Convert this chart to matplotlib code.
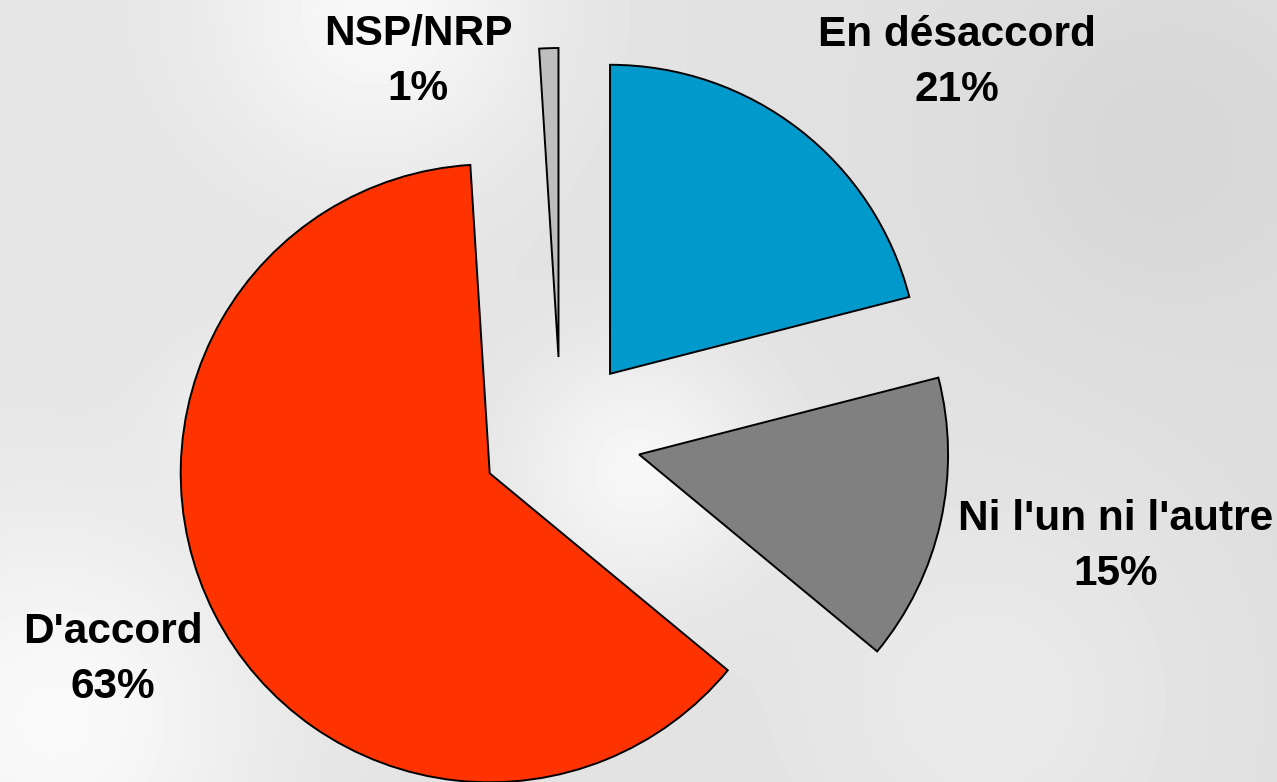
import numpy as np
import matplotlib
matplotlib.use('Agg')
import matplotlib.pyplot as plt

# data
labels = ["En désaccord", "Ni l'un ni l'autre", "D'accord", "NSP/NRP"]
values = [21, 15, 63, 1]
colors = ['#0099CC', '#808080', '#FF3300', '#BEBEBE']

W, H = 1277, 782
R = 309          # pie radius, pixels
CX, CY = 561, H - 437
EXPL = 80

# label anchor (x centre, baseline of first line), screen pixels
label_pos = [(957, 46), (1116, 530), (113, 643), (418, 45)]
line_gap = 55

plt.rcParams['font.family'] = ['Liberation Sans', 'DejaVu Sans']

fig = plt.figure(figsize=(W / 100, H / 100), dpi=100)
ax = fig.add_axes([0, 0, 1, 1])

# soft grey background with light blobs
yy, xx = np.mgrid[0:H, 0:W]
bg = np.full((H, W), 0.87)
bg += 0.03 * (1 - xx / W)
blobs = [(640, 470, 90, 0.08), (380, 10, 120, 0.08), (60, 720, 140, 0.08),
         (250, 420, 60, 0.04), (1150, 150, 120, -0.03), (1000, 700, 150, 0.04)]
for bx, by, s, a in blobs:
    bg += a * np.exp(-((xx - bx) ** 2 + (yy - by) ** 2) / (2 * s ** 2))
bg = np.clip(bg, 0, 1)
ax.imshow(bg, cmap='gray', vmin=0, vmax=1, extent=(0, W, 0, H), aspect='auto', zorder=0)

ax.pie(values, colors=colors, startangle=90, counterclock=False,
       radius=R, center=(CX, CY), explode=[EXPL] * len(values),
       wedgeprops=dict(edgecolor='black', linewidth=1.4), frame=False)

for (lx, ly), name, v in zip(label_pos, labels, values):
    ax.text(lx, H - ly, name, ha='center', va='baseline', fontsize=30.5, fontweight='bold')
    ax.text(lx, H - ly - line_gap, f"{v}%", ha='center', va='baseline', fontsize=30.5, fontweight='bold')

ax.set_xlim(0, W)
ax.set_ylim(0, H)
ax.set_aspect('auto')
ax.axis('off')

fig.savefig('out.png', dpi=100)
